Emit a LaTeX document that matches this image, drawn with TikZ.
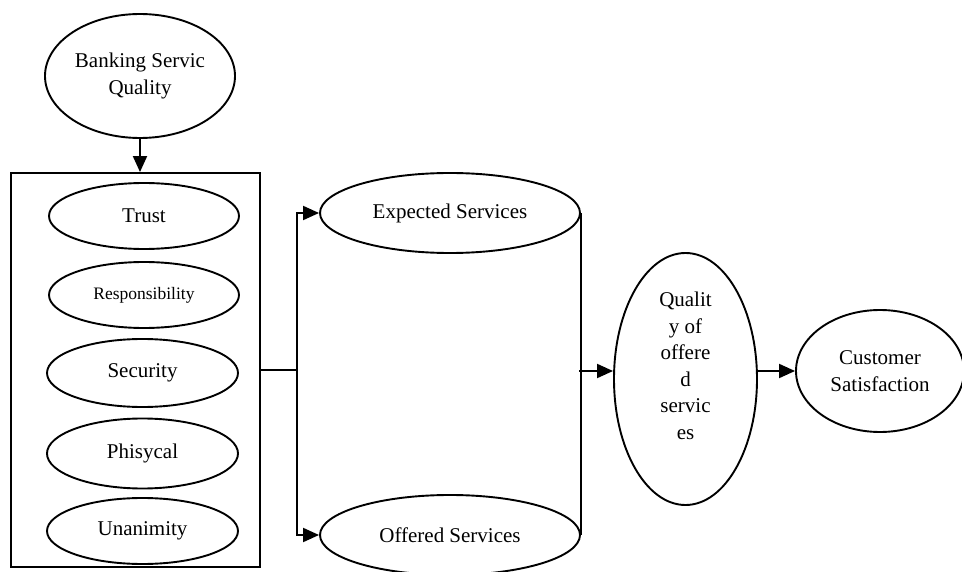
\documentclass[tikz,border=0pt]{standalone}
\usepackage{fontspec}
\setmainfont{Liberation Serif}
\usetikzlibrary{shapes.geometric,arrows.meta}

\begin{document}
\begin{tikzpicture}[x=1pt,y=-1pt,line width=1.9pt,
    arr/.style={-{Triangle[length=16pt,width=14pt]}}]

      \useasboundingbox (0,0) rectangle (962,572);

      \begin{scope}[every node/.style={ellipse,draw,inner sep=0pt,align=center,
          font=\fontsize{21}{26.5}\selectfont}]
        \node[minimum width=190,minimum height=124] (bank) at (140,76) {Banking Servic\\Quality};
        \node[minimum width=190,minimum height=66] (trust) at (144,216) {Trust};
        \node[minimum width=190,minimum height=66,font=\fontsize{17.5}{21}\selectfont] (resp) at (144,295) {Responsibility};
        \node[minimum width=191,minimum height=68] (secur) at (142.5,373) {Security};
        \node[minimum width=191,minimum height=70] (phys) at (142.5,453.5) {Phisycal};
        \node[minimum width=191,minimum height=66] (unan) at (142.5,531) {Unanimity};
        \node[minimum width=260,minimum height=80] (expect) at (450,213) {Expected Services};
        \node[minimum width=260,minimum height=80] (offer) at (450,535) {Offered Services};
        \node[minimum width=143,minimum height=252] (quality) at (685.5,379) {Qualit\\y of\\offere\\d\\servic\\es\\ \mbox{}};
        \node[minimum width=168,minimum height=122] (cust) at (880,371) {Customer\\Satisfaction};
      \end{scope}

      \node[draw,minimum width=249,minimum height=394,inner sep=0pt] (factors) at (135.5,370) {};

      \coordinate (split) at (297,370);
      \coordinate (join) at (579,371);

      \draw[arr] (bank.south) -- (bank.south |- factors.north);
      \draw (factors.east) -- (split);
      \draw[arr] (split) |- (expect.west);
      \draw[arr] (split) |- (offer.west);
      \draw (expect.east) -- (offer.east);
      \draw[arr] (join) -- (join -| quality.west);
      \draw[arr] (quality.east |- cust.west) -- (cust.west);

    \end{tikzpicture}
\end{document}
